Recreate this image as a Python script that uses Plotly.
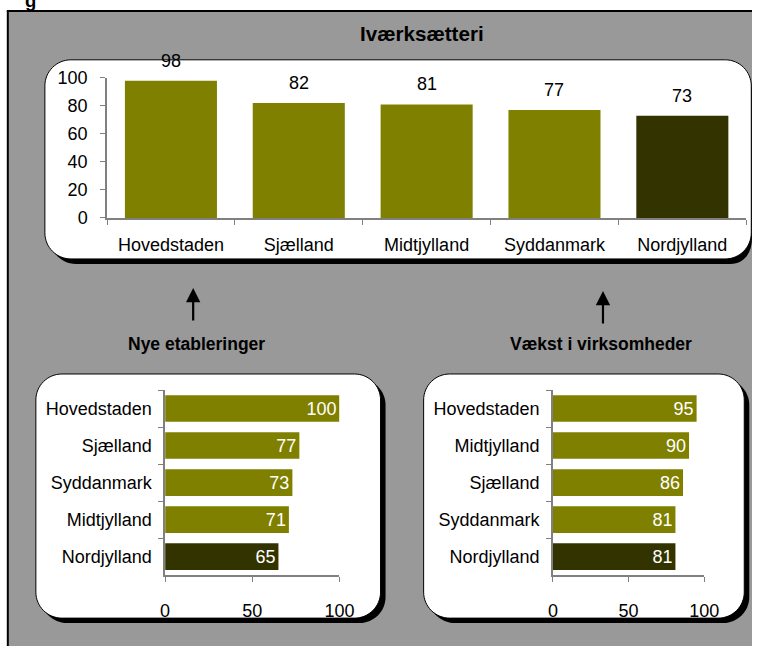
import plotly.graph_objects as go

W, H = 767, 656

# Data
top_regions = ["Hovedstaden", "Sjælland", "Midtjylland", "Syddanmark", "Nordjylland"]
top_values = [98, 82, 81, 77, 73]

nye_regions = ["Hovedstaden", "Sjælland", "Syddanmark", "Midtjylland", "Nordjylland"]
nye_values = [100, 77, 73, 71, 65]

vaekst_regions = ["Hovedstaden", "Midtjylland", "Sjælland", "Syddanmark", "Nordjylland"]
vaekst_values = [95, 90, 86, 81, 81]

OLIVE = "#808000"
DARK = "#333300"
GRAY_BG = "#999999"
AXIS = "#808080"
FONT = "Arial, Liberation Sans, sans-serif"

# the photographed page comes out slightly shrunk and shifted; layout positions
# below are given in picture pixels and mapped back to page pixels
SX, SY, OX, OY = 0.972, 0.969, 5.2, 9.2
S = (SX + SY) / 2


def bar_colors(regions):
    return [DARK if r == "Nordjylland" else OLIVE for r in regions]


def px(x):
    return max(0.0, min(1.0, (x - OX) / SX / W))


def py(y):
    return max(0.0, min(1.0, 1 - (y - OY) / SY / H))


def sz(v):
    return round(v / S, 1)


def rounded_path(x0, y0, x1, y1, r):
    # rounded rectangle, picture coords -> paper coords
    k = 0.5523 * r
    pts = [
        f"M {px(x0 + r)},{py(y0)}",
        f"L {px(x1 - r)},{py(y0)}",
        f"C {px(x1 - r + k)},{py(y0)} {px(x1)},{py(y0 + r - k)} {px(x1)},{py(y0 + r)}",
        f"L {px(x1)},{py(y1 - r)}",
        f"C {px(x1)},{py(y1 - r + k)} {px(x1 - r + k)},{py(y1)} {px(x1 - r)},{py(y1)}",
        f"L {px(x0 + r)},{py(y1)}",
        f"C {px(x0 + r - k)},{py(y1)} {px(x0)},{py(y1 - r + k)} {px(x0)},{py(y1 - r)}",
        f"L {px(x0)},{py(y0 + r)}",
        f"C {px(x0)},{py(y0 + r - k)} {px(x0 + r - k)},{py(y0)} {px(x0 + r)},{py(y0)}",
        "Z",
    ]
    return " ".join(pts)


fig = go.Figure()

# Top chart: Iværksætteri
fig.add_trace(go.Bar(
    x=top_regions, y=top_values, marker=dict(color=bar_colors(top_regions), line=dict(width=0)),
    xaxis="x", yaxis="y", showlegend=False, hoverinfo="x+y",
))

# Bottom left: Nye etableringer
fig.add_trace(go.Bar(
    y=nye_regions, x=nye_values, orientation="h",
    marker=dict(color=bar_colors(nye_regions), line=dict(width=0)),
    text=nye_values, textposition="inside", insidetextanchor="end", textangle=0,
    constraintext="none",
    textfont=dict(color="white", size=sz(17.5), family=FONT),
    xaxis="x2", yaxis="y2", showlegend=False,
))

# Bottom right: Vækst i virksomheder
fig.add_trace(go.Bar(
    y=vaekst_regions, x=vaekst_values, orientation="h",
    marker=dict(color=bar_colors(vaekst_regions), line=dict(width=0)),
    text=vaekst_values, textposition="inside", insidetextanchor="end", textangle=0,
    constraintext="none",
    textfont=dict(color="white", size=sz(17.5), family=FONT),
    xaxis="x3", yaxis="y3", showlegend=False,
))

tickfont = dict(size=sz(17.5), color="black", family=FONT)
common = dict(showline=True, linecolor=AXIS, linewidth=1.5, ticks="outside", ticklen=5,
              tickcolor=AXIS, showgrid=False, zeroline=False, tickfont=tickfont, fixedrange=True)

fig.update_layout(
    width=W, height=H,
    margin=dict(l=0, r=0, t=0, b=0),
    paper_bgcolor="white",
    plot_bgcolor="rgba(0,0,0,0)",
    font=dict(family=FONT, color="black"),
    bargap=0.28,
    xaxis=dict(domain=[px(107), px(745)], anchor="y", type="category", tickson="boundaries",
               ticklabelstandoff=10, **common),
    yaxis=dict(domain=[py(217), py(77)], anchor="x", range=[0, 100], dtick=20,
               ticklabelstandoff=9, **common),
    xaxis2=dict(domain=[px(165), px(339)], anchor="y2", range=[0, 100], dtick=50,
                ticklabelstandoff=14, **common),
    yaxis2=dict(domain=[py(574), py(389)], anchor="x2", type="category", autorange="reversed",
                tickson="boundaries", ticklabelstandoff=8, **common),
    xaxis3=dict(domain=[px(552), px(703)], anchor="y3", range=[0, 100], dtick=50,
                ticklabelstandoff=14, **common),
    yaxis3=dict(domain=[py(574), py(389)], anchor="x3", type="category", autorange="reversed",
                tickson="boundaries", ticklabelstandoff=8, **common),
)

shapes = []
# gray frame; only left and top edges are outlined
top_edge = 1 - 1.0 / H
shapes.append(dict(type="rect", xref="paper", yref="paper", x0=px(8), y0=top_edge, x1=1, y1=0,
                   fillcolor=GRAY_BG, line=dict(width=0), layer="below"))
shapes.append(dict(type="line", xref="paper", yref="paper", x0=px(8), y0=top_edge, x1=px(8), y1=0,
                   line=dict(color="black", width=2), layer="below"))
shapes.append(dict(type="line", xref="paper", yref="paper", x0=px(7), y0=top_edge, x1=1, y1=top_edge,
                   line=dict(color="black", width=2), layer="below"))

boxes = [(45, 59, 750, 258), (36, 373, 380, 617), (423, 373, 743, 617)]
for x0, y0, x1, y1 in boxes:
    shapes.append(dict(type="path", xref="paper", yref="paper",
                       path=rounded_path(x0 + 5, y0 + 5, x1 + 5, y1 + 5, 26),
                       fillcolor="black", line=dict(width=0), layer="below"))
    shapes.append(dict(type="path", xref="paper", yref="paper",
                       path=rounded_path(x0, y0, x1, y1, 26),
                       fillcolor="white", line=dict(color="black", width=1), layer="below"))
fig.update_layout(shapes=shapes)

annotations = []
# value labels above top bars
for r, v in zip(top_regions, top_values):
    annotations.append(dict(x=r, y=v, xref="x", yref="y", text=str(v), showarrow=False,
                            xanchor="center", yanchor="bottom", yshift=8,
                            font=dict(size=sz(17.5), family=FONT)))

bold = dict(family=FONT, color="black")
centered = dict(xref="paper", yref="paper", showarrow=False, xanchor="center", yanchor="middle")
annotations += [
    dict(x=px(421), y=py(33), text="<b>Iværksætteri</b>", font=dict(size=sz(20), **bold), **centered),
    dict(x=px(196), y=py(343), text="<b>Nye etableringer</b>", font=dict(size=sz(17), **bold), **centered),
    dict(x=px(600), y=py(343), text="<b>Vækst i virksomheder</b>", font=dict(size=sz(17), **bold), **centered),
    # cut-off heading letter above the frame
    dict(x=px(31), y=1 - 3.0 / H, xref="paper", yref="paper", text="<b>g</b>", showarrow=False,
         xanchor="center", yanchor="bottom", font=dict(size=sz(18), **bold)),
    # arrows
    dict(x=px(193), y=py(287), xref="paper", yref="paper", ax=0, ay=34, text="",
         showarrow=True, arrowhead=2, arrowsize=1.3, arrowwidth=2.2, arrowcolor="black"),
    dict(x=px(602), y=py(290), xref="paper", yref="paper", ax=0, ay=34, text="",
         showarrow=True, arrowhead=2, arrowsize=1.3, arrowwidth=2.2, arrowcolor="black"),
]
fig.update_layout(annotations=annotations)

fig.write_html("out.html", config={"displayModeBar": False},
               post_script="document.body.style.margin='0';")
